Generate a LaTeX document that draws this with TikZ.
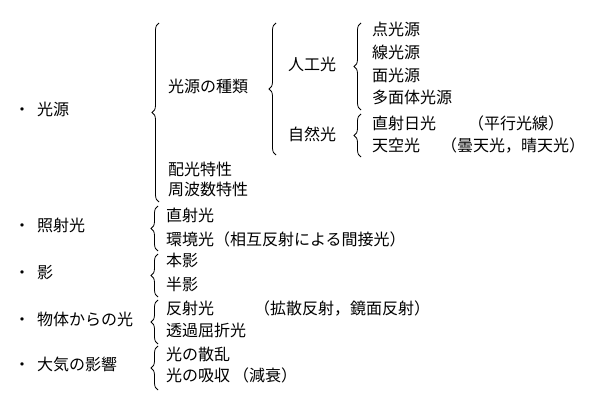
\documentclass[tikz,border=0pt]{standalone}
\usepackage{fontspec}
\setmainfont{Noto Sans CJK JP}
\usetikzlibrary{decorations.pathreplacing}

\begin{document}
\begin{tikzpicture}[x=1pt, y=-1pt,
        font=\fontsize{16}{19}\selectfont,
        item/.style={anchor=west, inner sep=0pt, text height=0.88em, text depth=0.12em},
        dot/.style={inner sep=0pt, text height=0.88em, text depth=0.12em},
        brace/.style={decorate, decoration={brace, amplitude=7pt}, line width=0.8pt}
    ]
    \useasboundingbox (0,0) rectangle (600,409);

    % main items
    \node[dot] (d1) at (22,112) {・};
    \node[item] (kogen) at (37,112) {光源};
    \node[dot] (d2) at (22,228) {・};
    \node[item] (shosha) at (37,228) {照射光};
    \node[dot] (d3) at (22,275) {・};
    \node[item] (kage) at (37,275) {影};
    \node[dot] (d4) at (22,322) {・};
    \node[item] (buttai) at (37,322) {物体からの光};
    \node[dot] (d5) at (22,367) {・};
    \node[item] (taiki) at (37,367) {大気の影響};

    % light source
    \node[item] (shurui) at (168,89) {光源の種類};
    \node[item] (haiko) at (168,172) {配光特性};
    \node[item] (shuha) at (168,192) {周波数特性};
    \node[item] (jinko) at (288,67) {人工光};
    \node[item] (shizen) at (288,137) {自然光};
    \node[item] (ten) at (372,32) {点光源};
    \node[item] (sen) at (372,55) {線光源};
    \node[item] (men) at (372,78) {面光源};
    \node[item] (tamen) at (372,100) {多面体光源};
    \node[item] (nikko) at (372,126) {直射日光};
    \node[item] (heiko) at (468,126) {（平行光線）};
    \node[item] (tenku) at (372,148) {天空光};
    \node[item] (donten) at (441,148) {（曇天光，晴天光）};

    % lower items
    \node[item] (chokko) at (166,218) {直射光};
    \node[item] (kankyo) at (166,242) {環境光（相互反射による間接光）};
    \node[item] (honei) at (166,263) {本影};
    \node[item] (hanei) at (166,287) {半影};
    \node[item] (hansha) at (166,311) {反射光};
    \node[item] (kakusan) at (254,311) {（拡散反射，鏡面反射）};
    \node[item] (toka) at (166,333) {透過屈折光};
    \node[item] (sanran) at (166,357) {光の散乱};
    \node[item] (kyushu) at (166,378) {光の吸収\hspace{3pt}（減衰）};

    % braces
    \coordinate (b1s) at (159,202); \coordinate (b1n) at (159,23);
    \coordinate (b2s) at (276,155); \coordinate (b2n) at (276,23);
    \coordinate (b3s) at (361,110); \coordinate (b3n) at (361,23);
    \coordinate (b4s) at (361,157); \coordinate (b4n) at (361,114);
    \coordinate (b5s) at (158,251); \coordinate (b5n) at (158,206);
    \coordinate (b6s) at (158,297); \coordinate (b6n) at (158,254);
    \coordinate (b7s) at (158,344); \coordinate (b7n) at (158,300);
    \coordinate (b8s) at (158,390); \coordinate (b8n) at (158,346);
    \foreach \b in {1,...,8}
        \draw[brace] (b\b s) -- (b\b n);
\end{tikzpicture}
\end{document}
